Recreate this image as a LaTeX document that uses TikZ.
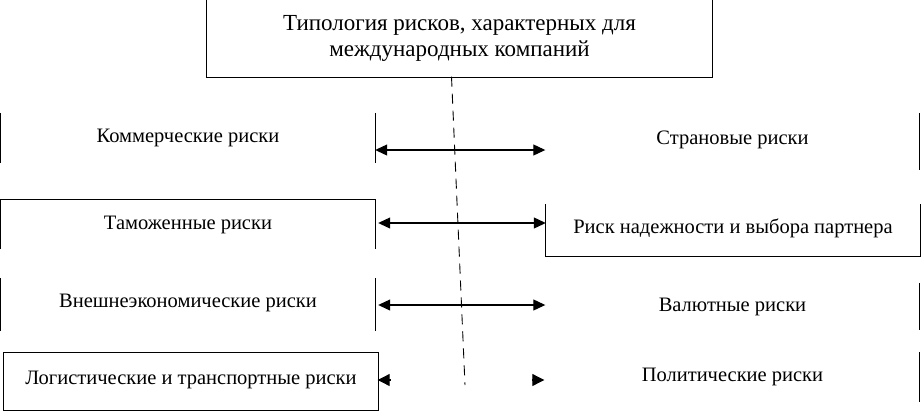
\documentclass[tikz,border=0pt]{standalone}
\usepackage{fontspec}
\setmainfont{Liberation Serif}
\usepackage{tikz}
\usetikzlibrary{arrows.meta, positioning, calc}

\begin{document}
\begin{tikzpicture}[
    x=1pt, y=-1pt,
    title/.style={rectangle, minimum width=506pt, minimum height=76pt, align=center, font=\fontsize{23}{25.5}\selectfont, inner sep=0pt},
    risk/.style={rectangle, minimum width=374pt, align=center, font=\fontsize{20.5}{24}\selectfont, inner sep=0pt},
    edge/.style={line width=1.1pt},
    arrow/.style={{Triangle[length=12pt,width=11pt]}-{Triangle[length=12pt,width=11pt]}, line width=1.1pt},
    onehead/.style={-{Triangle[length=12pt,width=12pt]}, line width=1.1pt},
    backhead/.style={{Triangle[length=12pt,width=12pt]}-, line width=1.1pt},
    axis/.style={line width=0.9pt, dash pattern=on 10pt off 7pt}
]
    \useasboundingbox (0,0) rectangle (922,413);

    \node[title] (top) at (459.5,38.5) {Типология рисков, характерных для \\ международных компаний};

    \node[risk, minimum height=50pt] (kom) at (188,138) {\raisebox{5pt}{Коммерческие риски}};
    \node[risk, minimum height=57pt] (str) at (732.5,141.5) {\raisebox{8.5pt}{Страновые риски}};
    \node[risk, minimum height=49pt] (tam) at (188,224.5) {\raisebox{3.5pt}{Таможенные риски}};
    \node[risk, minimum height=52pt] (nad) at (733,230) {\raisebox{7pt}{Риск надежности и выбора партнера}};
    \node[risk, minimum height=53pt] (vne) at (188,304.5) {\raisebox{6.5pt}{Внешнеэкономические риски}};
    \node[risk, minimum height=47pt] (val) at (732.5,306.5) {\raisebox{3.5pt}{Валютные риски}};
    \node[risk, minimum height=57pt, minimum width=374pt] (log) at (191,381.5) {\raisebox{7.5pt}{Логистические и транспортные риски}};
    \node[risk, minimum height=50pt] (pol) at (732.5,377) {\raisebox{4pt}{Политические риски}};

    \coordinate (axisend) at (465,385);

    % visible edges of the boxes
    \draw[edge] ($(top.south west)+(0,0.6)$) rectangle ($(top.north east)+(0,-0.6)$);
    \draw[edge] (kom.north west) -- (kom.south west) (kom.north east) -- (kom.south east);
    \draw[edge] (str.north east) -- (str.south east);
    \draw[edge] (tam.south west) |- (tam.north east) -- (tam.south east);
    \draw[edge] (nad.north west) |- (nad.south east) -- (nad.north east);
    \draw[edge] (vne.north west) -- (vne.south west) (vne.north east) -- (vne.south east);
    \draw[edge] (val.north east) -- (val.south east);
    \draw[edge] (log.north west) rectangle (log.south east);
    \draw[edge] (pol.north east) -- (pol.south east);

    % dashed axis
    \draw[axis] ([xshift=-8pt]top.south) -- (axisend);

    % connectors
    \draw[arrow] ([yshift=-12pt]kom.east) -- ([yshift=-8.5pt]str.west);
    \draw[arrow] ([shift={(3pt,1.5pt)}]tam.east) -- ([yshift=7pt]nad.west);
    \draw[arrow] ([shift={(3pt,-0.5pt)}]vne.east) -- ([yshift=1.5pt]val.west);
    \draw[backhead] ([shift={(-0.5pt,1.5pt)}]log.east) -- ([shift={(13pt,1.5pt)}]log.east);
    \draw[onehead] ([shift={(-13.5pt,-3pt)}]pol.west) -- ([shift={(-1pt,-3pt)}]pol.west);
\end{tikzpicture}
\end{document}
